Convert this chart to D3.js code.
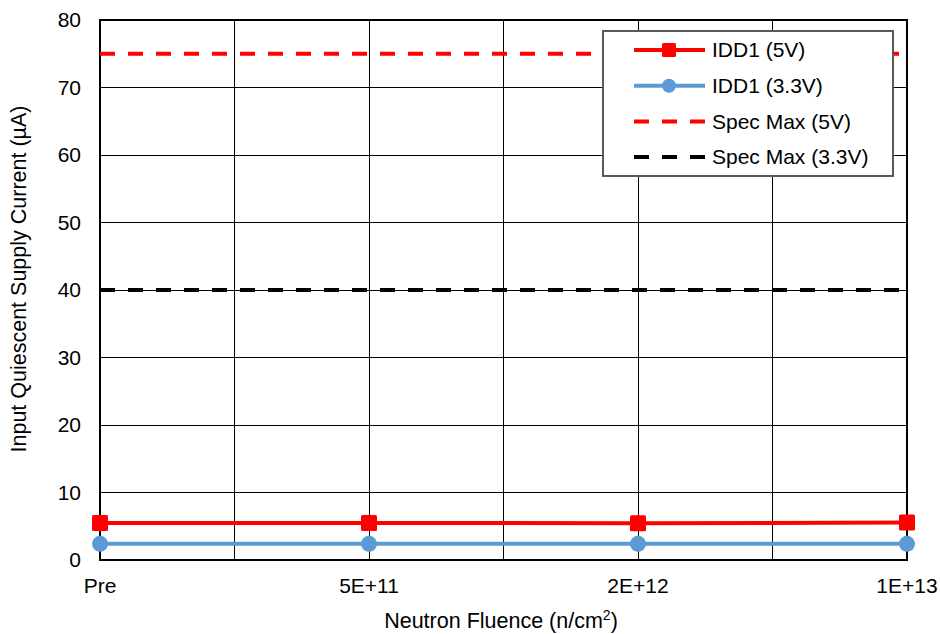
<!DOCTYPE html>
<html>
<head>
<meta charset="utf-8">
<script src="https://cdn.jsdelivr.net/npm/d3@7"></script>
<style>
  body { margin: 0; background: #fff; }
  svg text { font-family: Arial, "Liberation Sans", sans-serif; fill: #000; }
</style>
</head>
<body>
<svg id="chart" width="940" height="634"></svg>
<script>
// data
var categories = ["Pre", "5E+11", "2E+12", "1E+13"]
var idd5 = [5.5, 5.5, 5.45, 5.55]
var idd33 = [2.4, 2.4, 2.4, 2.4]
var specMax5 = 75
var specMax33 = 40
var yTicks = [0, 10, 20, 30, 40, 50, 60, 70, 80]

var margin = { left: 100, top: 20, right: 33, bottom: 74 }
var width = 940 - margin.left - margin.right
var height = 634 - margin.top - margin.bottom

var svg = d3.select("#chart")
var g = svg.append("g").attr("transform", "translate(" + margin.left + "," + margin.top + ")")

var x = d3.scalePoint().domain(categories).range([0, width])
var y = d3.scaleLinear().domain([0, 80]).range([height, 0])

// horizontal grid
g.selectAll(".hgrid").data(yTicks).enter().append("line")
  .attr("x1", 0).attr("x2", width)
  .attr("y1", function(d) { return y(d) }).attr("y2", function(d) { return y(d) })
  .attr("stroke", "#000").attr("stroke-width", 1).attr("shape-rendering", "crispEdges")

// vertical grid at each category and between them
var step = x.step()
var vLines = []
categories.forEach(function(c, i) {
  vLines.push(x(c))
  if (i < categories.length - 1) vLines.push(x(c) + step / 2)
})
g.selectAll(".vgrid").data(vLines).enter().append("line")
  .attr("x1", function(d) { return d }).attr("x2", function(d) { return d })
  .attr("y1", 0).attr("y2", height)
  .attr("stroke", "#000").attr("stroke-width", 1).attr("shape-rendering", "crispEdges")

// plot border
g.append("rect").attr("width", width).attr("height", height)
  .attr("fill", "none").attr("stroke", "#000").attr("stroke-width", 1.3)
  .attr("shape-rendering", "crispEdges")

// y axis labels
g.selectAll(".ytick").data(yTicks).enter().append("text")
  .attr("x", -19).attr("y", function(d) { return y(d) })
  .attr("dy", "0.35em").attr("text-anchor", "end")
  .style("font-size", "21px").text(function(d) { return d })

// x axis labels
g.selectAll(".xtick").data(categories).enter().append("text")
  .attr("x", function(d) { return x(d) }).attr("y", height + 33)
  .attr("text-anchor", "middle").style("font-size", "21px")
  .text(function(d) { return d })

// axis titles
var xt = svg.append("text").attr("x", 501).attr("y", 628)
  .attr("text-anchor", "middle").style("font-size", "21.5px")
xt.append("tspan").text("Neutron Fluence (n/cm")
xt.append("tspan").attr("dy", "-8").style("font-size", "14px").text("2")
xt.append("tspan").attr("dy", "8").text(")")

svg.append("text")
  .attr("transform", "translate(26,279) rotate(-90)")
  .attr("text-anchor", "middle").style("font-size", "21.5px")
  .text("Input Quiescent Supply Current (µA)")

// spec max lines
var dash = "15,13"
g.append("line").attr("x1", 0).attr("x2", width)
  .attr("y1", y(specMax5)).attr("y2", y(specMax5))
  .attr("stroke", "#ff0000").attr("stroke-width", 4).attr("stroke-dasharray", dash)
g.append("line").attr("x1", 0).attr("x2", width)
  .attr("y1", y(specMax33)).attr("y2", y(specMax33))
  .attr("stroke", "#000").attr("stroke-width", 4).attr("stroke-dasharray", dash)

var line = d3.line()
  .x(function(d, i) { return x(categories[i]) })
  .y(function(d) { return y(d) })

// IDD1 3.3V
g.append("path").datum(idd33).attr("d", line)
  .attr("fill", "none").attr("stroke", "#5b9bd5").attr("stroke-width", 4)
g.selectAll(".c33").data(idd33).enter().append("circle")
  .attr("cx", function(d, i) { return x(categories[i]) })
  .attr("cy", function(d) { return y(d) })
  .attr("r", 8).attr("fill", "#5b9bd5")

// IDD1 5V
g.append("path").datum(idd5).attr("d", line)
  .attr("fill", "none").attr("stroke", "#ff0000").attr("stroke-width", 4)
g.selectAll(".s5").data(idd5).enter().append("rect")
  .attr("x", function(d, i) { return x(categories[i]) - 8 })
  .attr("y", function(d) { return y(d) - 8 })
  .attr("width", 16).attr("height", 16).attr("rx", 1.5)
  .attr("fill", "#ff0000")

// legend
var legendItems = [
  { label: "IDD1 (5V)", color: "#ff0000", dash: null, marker: "square" },
  { label: "IDD1 (3.3V)", color: "#5b9bd5", dash: null, marker: "circle" },
  { label: "Spec Max (5V)", color: "#ff0000", dash: dash, marker: null },
  { label: "Spec Max (3.3V)", color: "#000", dash: dash, marker: null }
]
var legend = svg.append("g").attr("transform", "translate(603,31)")
legend.append("rect").attr("width", 290).attr("height", 145)
  .attr("fill", "#fff").attr("stroke", "#595959").attr("stroke-width", 1.2)
  .attr("shape-rendering", "crispEdges")
legendItems.forEach(function(d, i) {
  var ly = 19 + i * 35.7
  var row = legend.append("g").attr("transform", "translate(0," + ly + ")")
  row.append("line").attr("x1", 31).attr("x2", 102)
    .attr("stroke", d.color).attr("stroke-width", 4)
    .attr("stroke-dasharray", d.dash)
  if (d.marker === "square") {
    row.append("rect").attr("x", 59).attr("y", -7).attr("width", 14).attr("height", 14)
      .attr("rx", 1.5).attr("fill", d.color)
  } else if (d.marker === "circle") {
    row.append("circle").attr("cx", 66).attr("r", 7).attr("fill", d.color)
  }
  row.append("text").attr("x", 109).attr("dy", "0.35em")
    .style("font-size", "21px").text(d.label)
})
</script>
</body>
</html>
